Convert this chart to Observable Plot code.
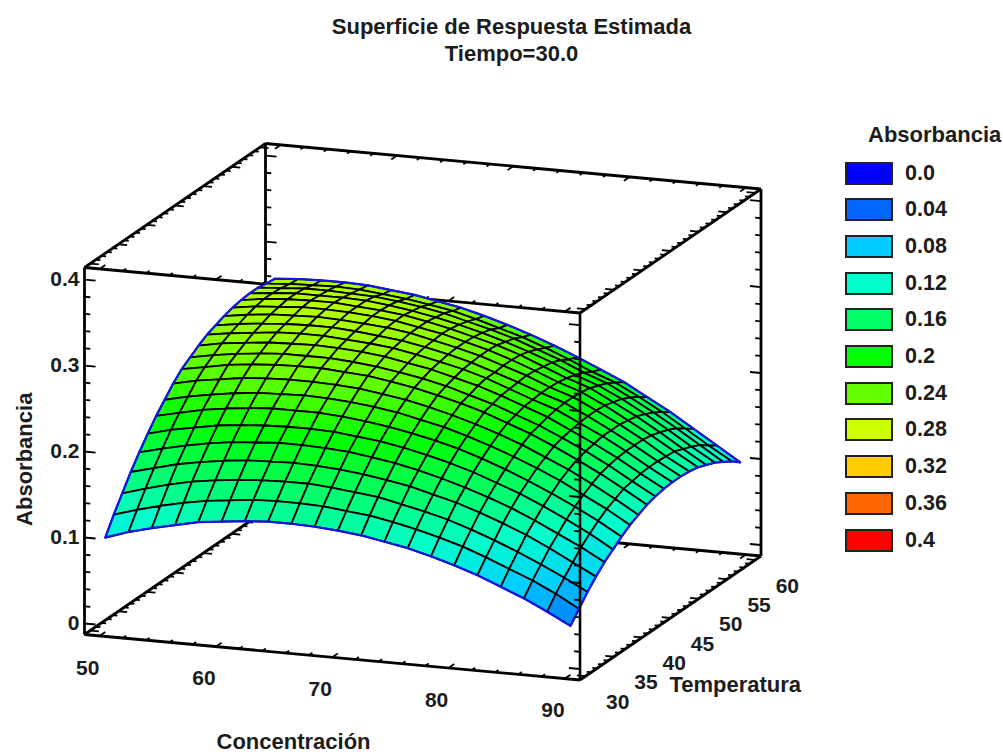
<!DOCTYPE html>
<html>
<head>
<meta charset="utf-8">
<script src="https://cdn.jsdelivr.net/npm/d3@7"></script>
<script src="https://cdn.jsdelivr.net/npm/@observablehq/plot@0.6"></script>
<style>
  html, body { margin: 0; padding: 0; background: #fff; }
  body { width: 1003px; height: 754px; overflow: hidden; position: relative; font-family: "Liberation Sans", Arial, sans-serif; font-weight: bold; color: #1c1c1c; }
  #title { height: 70px; box-sizing: border-box; padding-top: 13px; text-align: center; width: 1023px; font-size: 22px; line-height: 27px; }
  #legend { position: absolute; left: 845px; top: 122px; width: 158px; }
  #legend .head { font-size: 22px; line-height: 26px; margin-left: 23px; white-space: nowrap; }
  #legend .row { position: absolute; left: 0; display: flex; align-items: center; height: 22px; font-size: 21.5px; }
  #legend .sw { width: 44px; height: 19px; border: 2px solid #222; box-sizing: content-box; margin-right: 12px; }
  svg { display: block; }
</style>
</head>
<body>
<div id="title">Superficie de Respuesta Estimada<br>Tiempo=30.0</div>
<div id="chart"></div>
<div id="legend"></div>
<script>
// Axes
const concentracion = [50,52,54,56,58,60,62,64,66,68,70,72,74,76,78,80,82,84,86,88,90];
const temperatura = [30,31.5,33,34.5,36,37.5,39,40.5,42,43.5,45,46.5,48,49.5,51,52.5,54,55.5,57,58.5,60];
const concRange = [48.7, 91.3];
const tempRange = [29, 61];
const absRange = [-0.0128, 0.414];
const concTicks = [50,60,70,80,90];
const tempTicks = [30,35,40,45,50,55,60];
const absTicks = [0,0.1,0.2,0.3,0.4];
const absTickLabels = ["0","0.1","0.2","0.3","0.4"];

// Absorbancia: one row per temperatura, one column per concentracion
const absorbancia = [
[.097,.106,.113,.119,.125,.128,.131,.133,.133,.132,.130,.127,.122,.117,.110,.102,.093,.082,.071,.058,.044],
[.117,.125,.132,.138,.143,.146,.149,.150,.150,.149,.146,.143,.138,.132,.125,.117,.107,.096,.085,.072,.057],
[.135,.143,.150,.156,.160,.163,.165,.166,.166,.164,.161,.158,.152,.146,.139,.130,.120,.109,.097,.084,.070],
[.153,.160,.167,.172,.176,.179,.180,.181,.180,.178,.175,.171,.166,.159,.152,.143,.133,.122,.109,.095,.081],
[.169,.176,.182,.187,.191,.193,.195,.195,.194,.192,.188,.184,.178,.171,.163,.154,.144,.132,.119,.106,.091],
[.184,.191,.196,.201,.204,.206,.207,.207,.206,.203,.200,.195,.189,.182,.174,.164,.154,.142,.129,.115,.099],
[.198,.204,.210,.214,.217,.219,.219,.219,.217,.214,.210,.205,.199,.192,.183,.173,.162,.150,.137,.123,.107],
[.210,.216,.221,.225,.228,.229,.230,.229,.227,.224,.220,.214,.208,.200,.191,.181,.170,.158,.144,.130,.114],
[.222,.228,.232,.236,.238,.239,.239,.238,.236,.232,.228,.222,.215,.207,.198,.188,.176,.164,.150,.135,.119],
[.232,.237,.242,.245,.247,.248,.248,.246,.244,.240,.235,.229,.222,.214,.204,.194,.182,.169,.155,.140,.124],
[.239,.244,.248,.251,.253,.253,.253,.251,.248,.244,.239,.233,.225,.217,.207,.197,.185,.172,.158,.142,.127],
[.246,.251,.254,.257,.258,.259,.258,.256,.253,.248,.243,.236,.229,.220,.210,.200,.187,.174,.160,.144,.129],
[.252,.256,.259,.262,.263,.263,.261,.259,.256,.251,.245,.239,.231,.221,.211,.202,.189,.176,.161,.145,.130],
[.256,.260,.263,.265,.266,.266,.264,.261,.258,.253,.247,.240,.231,.222,.212,.203,.190,.176,.161,.145,.130],
[.260,.264,.267,.268,.269,.268,.266,.264,.260,.254,.248,.241,.232,.223,.212,.203,.190,.176,.161,.144,.129],
[.263,.267,.269,.271,.271,.270,.268,.265,.260,.255,.248,.241,.232,.222,.211,.202,.189,.174,.159,.143,.127],
[.265,.269,.271,.272,.272,.270,.268,.265,.260,.254,.247,.240,.231,.220,.209,.200,.186,.172,.156,.139,.123],
[.266,.269,.271,.271,.271,.270,.267,.263,.258,.252,.245,.237,.228,.218,.206,.196,.183,.168,.152,.135,.119],
[.266,.268,.270,.270,.269,.268,.265,.261,.256,.249,.242,.234,.224,.214,.202,.192,.178,.163,.147,.130,.113],
[.264,.266,.267,.268,.267,.264,.261,.257,.252,.245,.237,.229,.219,.208,.196,.186,.172,.157,.140,.123,.107],
[.263,.265,.266,.266,.265,.262,.259,.254,.249,.242,.234,.225,.215,.204,.192,.180,.165,.150,.133,.116,.099]
];

// Legend
const levels = [0,0.04,0.08,0.12,0.16,0.2,0.24,0.28,0.32,0.36,0.4];
const levelLabels = ["0.0","0.04","0.08","0.12","0.16","0.2","0.24","0.28","0.32","0.36","0.4"];
const levelColors = ["#0000ff","#0066ff","#00ccff","#00ffcc","#00ff66","#00ff00","#66ff00","#ccff00","#ffcc00","#ff6600","#ff0000"];

// Fixed oblique view of the box (three axis vectors on the page)
const view = {ox: 84, oy: 634, ax: 495.5, ay: 45.5, bx: 181, by: -124, wy: -367};
function project(c, t, z) {
  const a = (c - concRange[0]) / (concRange[1] - concRange[0]);
  const b = (t - tempRange[0]) / (tempRange[1] - tempRange[0]);
  const w = (z - absRange[0]) / (absRange[1] - absRange[0]);
  return [view.ox + a * view.ax + b * view.bx, view.oy + a * view.ay + b * view.by + w * view.wy];
}
const P = (c, t, z) => { const [x, y] = project(c, t, z); return {x, y}; };

// Surface cells, back to front
const cellPoints = [];
let cellId = 0;
for (let j = temperatura.length - 1; j > 0; j--) {
  for (let i = 0; i < concentracion.length - 1; i++) {
    const corners = [[i,j],[i+1,j],[i+1,j-1],[i,j-1],[i,j]];
    const mean = (absorbancia[j][i] + absorbancia[j][i+1] + absorbancia[j-1][i] + absorbancia[j-1][i+1]) / 4;
    for (const [u, v] of corners) {
      cellPoints.push({...P(concentracion[u], temperatura[v], absorbancia[v][u]), id: cellId, value: mean});
    }
    cellId++;
  }
}

// Surface outline
const outline = [];
const nC = concentracion.length, nT = temperatura.length;
for (let i = 0; i < nC; i++) outline.push(P(concentracion[i], temperatura[0], absorbancia[0][i]));
for (let j = 1; j < nT; j++) outline.push(P(concentracion[nC-1], temperatura[j], absorbancia[j][nC-1]));
for (let i = nC - 2; i >= 0; i--) outline.push(P(concentracion[i], temperatura[nT-1], absorbancia[nT-1][i]));
for (let j = nT - 2; j >= 0; j--) outline.push(P(concentracion[0], temperatura[j], absorbancia[j][0]));

// Box edges
const [c0, c1] = concRange, [t0, t1] = tempRange, [z0, z1] = absRange;
const edge = (p, q) => { const A = P(...p), B = P(...q); return {x1: A.x, y1: A.y, x2: B.x, y2: B.y}; };
const backEdges = [
  edge([c0,t0,z0],[c1,t0,z0]), edge([c1,t0,z0],[c1,t1,z0]), edge([c1,t1,z0],[c0,t1,z0]), edge([c0,t1,z0],[c0,t0,z0]),
  edge([c0,t0,z1],[c1,t0,z1]), edge([c1,t0,z1],[c1,t1,z1]), edge([c1,t1,z1],[c0,t1,z1]), edge([c0,t1,z1],[c0,t0,z1]),
  edge([c0,t0,z0],[c0,t0,z1]), edge([c0,t1,z0],[c0,t1,z1]), edge([c1,t1,z0],[c1,t1,z1])
];
const frontEdge = [edge([c1,t0,z0],[c1,t0,z1])];

// Tick marks, built in axis units along the box edges
const backTicks = [], frontTicks = [];
const range = (a, b, s) => d3.range(Math.round((b - a) / s) + 1).map(k => a + k * s);
for (const c of range(50, 90, 2)) {
  const major = c % 10 === 0, l = major ? 1.0 : 0.6;
  for (const z of [z0, z1]) {
    backTicks.push(edge([c,t0,z],[c,t0+l,z]));
    backTicks.push(edge([c,t1,z],[c,t1-l,z]));
  }
}
for (const t of range(30, 60, 1)) {
  const major = t % 5 === 0, l = major ? 0.75 : 0.4;
  for (const z of [z0, z1]) {
    backTicks.push(edge([c0,t,z],[c0+l,t,z]));
    backTicks.push(edge([c1,t,z],[c1-l,t,z]));
  }
}
for (const k of d3.range(21)) {
  const z = k * 0.02, major = k % 5 === 0, l = major ? 0.95 : 0.5;
  backTicks.push(edge([c0,t0,z],[c0+l,t0,z]));
  backTicks.push(edge([c0,t1,z],[c0+l,t1,z]));
  backTicks.push(edge([c1,t1,z],[c1-l,t1,z]));
  frontTicks.push(edge([c1,t0,z],[c1-l,t0,z]));
}

const concLabels = concTicks.map(c => ({...P(c, t0, z0), label: String(c)}));
const tempLabels = tempTicks.map(t => ({...P(c1, t, z0), label: String(t)}));
const absLabels = absTicks.map((z, k) => ({...P(c0, t0, z), label: absTickLabels[k]}));
const textOpts = {text: "label", x: "x", y: "y", fontFamily: "Liberation Sans, Arial, sans-serif", fontWeight: "bold", fontSize: 21, fill: "#1c1c1c"};
const W = 845, H = 684, TOP = 70;

const plot = Plot.plot({
  width: W, height: H,
  marginTop: 0, marginRight: 0, marginBottom: 0, marginLeft: 0,
  style: {background: "transparent", overflow: "visible"},
  x: {domain: [0, W], range: [0, W], axis: null},
  y: {domain: [TOP, TOP + H], range: [0, H], axis: null},
  color: {type: "linear", domain: levels, range: levelColors, clamp: true},
  marks: [
    Plot.link(backEdges, {x1: "x1", y1: "y1", x2: "x2", y2: "y2", stroke: "#000", strokeWidth: 2.8}),
    Plot.link(backTicks, {x1: "x1", y1: "y1", x2: "x2", y2: "y2", stroke: "#000", strokeWidth: 1.8}),
    Plot.line(cellPoints, {x: "x", y: "y", z: "id", fill: "value", stroke: "#000", strokeWidth: 1.8, curve: "linear"}),
    Plot.line(outline, {x: "x", y: "y", stroke: "#1414e6", strokeWidth: 2.2, curve: "linear"}),
    Plot.link(frontEdge, {x1: "x1", y1: "y1", x2: "x2", y2: "y2", stroke: "#000", strokeWidth: 2.6}),
    Plot.link(frontTicks, {x1: "x1", y1: "y1", x2: "x2", y2: "y2", stroke: "#000", strokeWidth: 1.8}),
    Plot.text(concLabels, {...textOpts, dx: -12, dy: 32}),
    Plot.text(tempLabels, {...textOpts, dx: 32, dy: 26}),
    Plot.text(absLabels, {...textOpts, textAnchor: "end", dx: -5}),
    Plot.text([{...P(c0 + 18.2, t0 - 1, z0), label: "Concentración"}], {...textOpts, fontSize: 22, dx: 3, dy: 84}),
    Plot.text([{...P(c1, 37, z0), label: "Temperatura"}], {...textOpts, fontSize: 22, dx: 110, dy: 36}),
    Plot.text([{...P(c0, t0, 0.191), label: "Absorbancia"}], {...textOpts, fontSize: 22, rotate: -90, dx: -60})
  ]
});
document.getElementById("chart").appendChild(plot);

// Legend
const legend = document.getElementById("legend");
const head = document.createElement("div");
head.className = "head";
head.textContent = "Absorbancia";
legend.appendChild(head);
levels.forEach((lv, k) => {
  const row = document.createElement("div");
  row.className = "row";
  row.style.top = (40 + k * 36.7) + "px";
  const sw = document.createElement("span");
  sw.className = "sw";
  sw.style.background = levelColors[k];
  const label = document.createElement("span");
  label.textContent = levelLabels[k];
  row.append(sw, label);
  legend.appendChild(row);
});
</script>
</body>
</html>
